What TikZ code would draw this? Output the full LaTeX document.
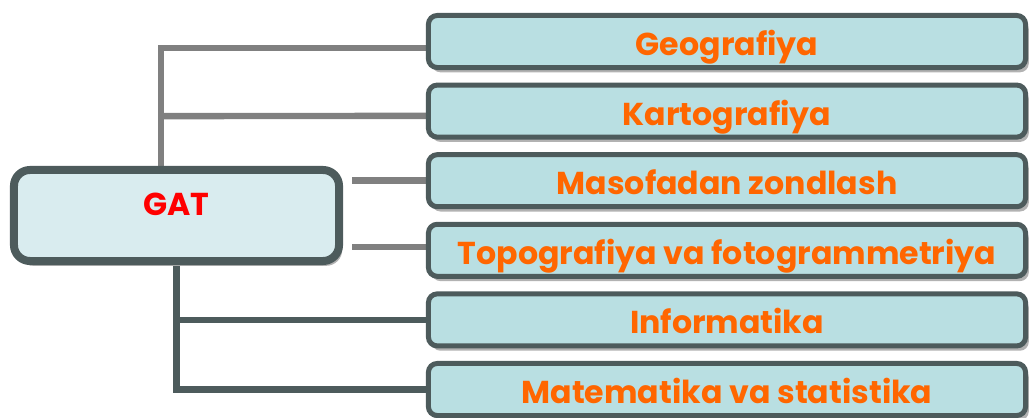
\documentclass[tikz,border=0pt]{standalone}
\usepackage{fontspec}
\setmainfont{Poppins}
\usetikzlibrary{positioning,calc,shadows,backgrounds}
\definecolor{boxline}{HTML}{4D5B5C}
\definecolor{gatfill}{HTML}{D9ECEF}
\definecolor{topicfill}{HTML}{B9DFE2}
\definecolor{topictext}{HTML}{FF6600}
\definecolor{linkgray}{HTML}{808080}

\begin{document}
\begin{tikzpicture}[x=0.025cm,y=-0.025cm,font=\bfseries\fontsize{22.5}{26}\selectfont,
  boxshadow/.style={drop shadow={shadow xshift=0.08cm,shadow yshift=-0.12cm,fill=black!30,opacity=1}},
  topic/.style={draw=boxline,line width=0.125cm,rounded corners=0.22cm,fill=topicfill,text=topictext,
    minimum width=14.925cm,minimum height=1.3cm,text height=0.7cm,text depth=0cm,inner sep=0pt,boxshadow},
  root/.style={draw=boxline,line width=0.2cm,rounded corners=0.4cm,fill=gatfill,text=red,
    minimum width=8.125cm,minimum height=2.275cm,text height=0.55cm,text depth=0.55cm,inner sep=0pt,boxshadow},
  grayline/.style={draw=linkgray,line width=0.16cm},
  darkline/.style={draw=boxline,line width=0.16cm}]
  \useasboundingbox (0,0) rectangle (1030,418);
  % ---- root ----
  \node[root] (gat) at (176.5,215.5) {GAT};
  % ---- topics ----
  \foreach \t [count=\i] in {Geografiya, Kartografiya, Masofadan zondlash,
      Topografiya va fotogrammetriya, Informatika, Matematika va statistika}
    \node[topic] (b\i) at (727,{41.5+69.6*(\i-1)}) {\t};
  % ---- links, behind the boxes ----
  \begin{pgfonlayer}{background}
    \draw[grayline] ([xshift=-0.38cm]gat.north) |- ([yshift=-0.17cm]b1.west);
    \draw[grayline] ([xshift=-0.38cm]gat.north |- b2.west) ++(0,5) -- ([yshift=-0.12cm]b2.west);
    \draw[grayline] (b3.west) -- ++(-74,0) coordinate (s3);
    \draw[grayline] ([yshift=0.08cm]b4.west) -- ++(-74,0) coordinate (s4);
    \draw[darkline] (gat.south) |- (b6.west);
    \draw[darkline] (gat.south |- b5.west) -- (b5.west);
  \end{pgfonlayer}
\end{tikzpicture}
\end{document}
